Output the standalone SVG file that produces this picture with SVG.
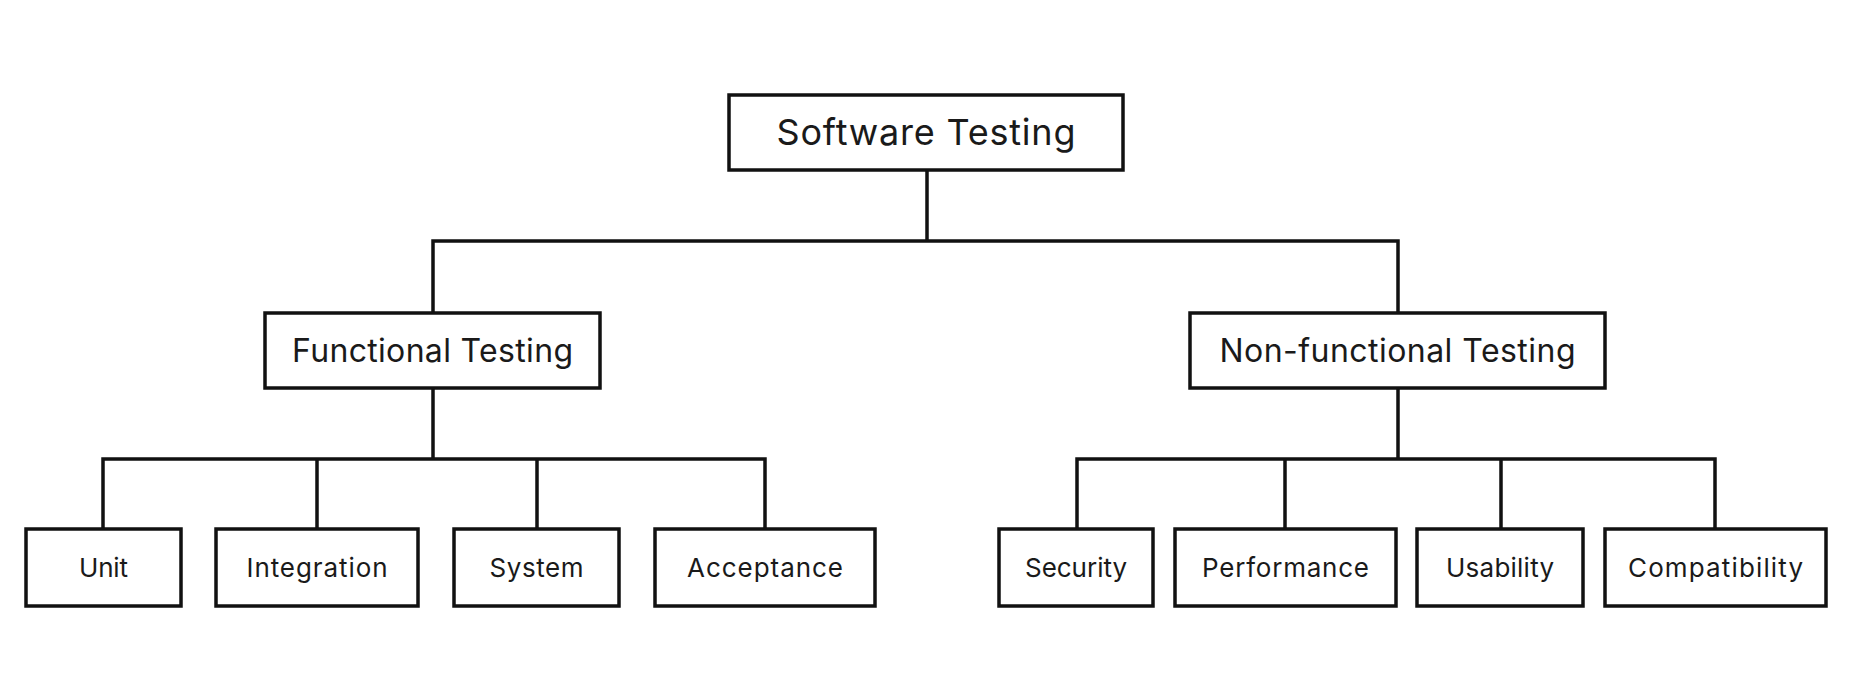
<svg xmlns="http://www.w3.org/2000/svg" width="1854" height="696" viewBox="0 0 1854 696">
<style>
.box{fill:#fff;stroke:#111;stroke-width:3.5}
.ln{fill:none;stroke:#111;stroke-width:3.5}
text{font-family:Inter,"Noto Sans","Liberation Sans",sans-serif;fill:#1a1a1a;text-anchor:middle}
.t0{font-size:36px}
.t1{font-size:32px}
.t2{font-size:26px}
</style>
<rect width="1854" height="696" fill="#fff"/>
<g id="connectors">
<path class="ln" d="M927 170V241M433 313V241H1398V313"/>
<path class="ln" d="M433 388V459M103 529V459H765V529M317 459V529M537 459V529"/>
<path class="ln" d="M1398 388V459M1077 529V459H1715V529M1285 459V529M1501 459V529"/>
</g>
<g id="n-root"><rect class="box" x="729" y="95" width="394" height="75"/><text class="t0" x="926" y="145" textLength="299">Software Testing</text></g>
<g id="n-functional"><rect class="box" x="265" y="313" width="335" height="75"/><text class="t1" x="432.5" y="362" textLength="281">Functional Testing</text></g>
<g id="n-nonfunctional"><rect class="box" x="1190" y="313" width="415" height="75"/><text class="t1" x="1397.5" y="362" textLength="356">Non-functional Testing</text></g>
<g id="n-unit"><rect class="box" x="26" y="529" width="155" height="77"/><text class="t2" x="103.5" y="577" textLength="49">Unit</text></g>
<g id="n-integration"><rect class="box" x="216" y="529" width="202" height="77"/><text class="t2" x="317" y="577" textLength="141">Integration</text></g>
<g id="n-system"><rect class="box" x="454" y="529" width="165" height="77"/><text class="t2" x="536.5" y="577" textLength="94">System</text></g>
<g id="n-acceptance"><rect class="box" x="655" y="529" width="220" height="77"/><text class="t2" x="765" y="577" textLength="156">Acceptance</text></g>
<g id="n-security"><rect class="box" x="999" y="529" width="154" height="77"/><text class="t2" x="1076" y="577" textLength="102">Security</text></g>
<g id="n-performance"><rect class="box" x="1175" y="529" width="221" height="77"/><text class="t2" x="1285.5" y="577" textLength="167">Performance</text></g>
<g id="n-usability"><rect class="box" x="1417" y="529" width="166" height="77"/><text class="t2" x="1500" y="577" textLength="108">Usability</text></g>
<g id="n-compatibility"><rect class="box" x="1605" y="529" width="221" height="77"/><text class="t2" x="1715.5" y="577" textLength="175">Compatibility</text></g>
</svg>
